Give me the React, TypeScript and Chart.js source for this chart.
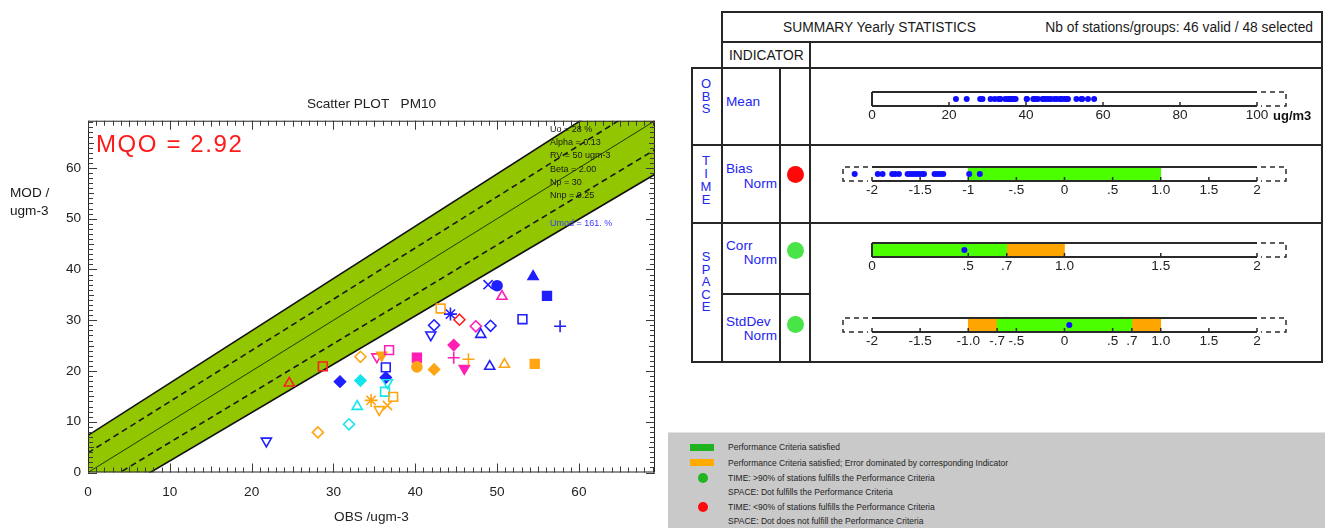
import React, { useEffect, useRef } from "react";
import { Chart, registerables } from "chart.js";
Chart.register(...registerables);

const F = '"Liberation Sans", Arial, Helvetica, sans-serif';

// ---------------- Scatter plot data ----------------
const obsValues = [21.8, 24.6, 28.1, 28.7, 30.8, 31.9, 32.9, 33.3, 33.3, 34.6, 35.3, 35.6, 35.9, 36.3, 36.4, 36.4, 36.6, 36.6, 36.8, 37.3, 40.2, 40.2, 41.9, 42.3, 42.3, 43.1, 44.3, 44.7, 44.7, 45.4, 46.0, 46.5, 47.4, 48.0, 48.9, 49.1, 49.2, 50.0, 50.6, 50.9, 53.1, 54.4, 54.6, 56.1, 57.7];
const modValues = [6.2, 17.6, 7.9, 20.9, 17.9, 9.5, 13.0, 18.1, 22.8, 14.2, 22.8, 12.4, 23.1, 15.9, 18.7, 20.7, 17.7, 13.2, 24.1, 14.9, 22.6, 20.8, 27.1, 29.0, 20.3, 32.3, 31.2, 25.1, 22.6, 30.1, 20.5, 22.3, 28.8, 27.2, 37.0, 20.9, 28.9, 36.8, 34.7, 21.3, 30.2, 38.6, 21.4, 34.8, 28.8];
const markerColors = ["blue", "red", "orange", "red", "blue", "cyan", "cyan", "cyan", "orange", "orange", "magenta", "orange", "orange", "cyan", "blue", "blue", "cyan", "orange", "magenta", "orange", "magenta", "orange", "blue", "blue", "orange", "orange", "blue", "magenta", "magenta", "red", "magenta", "orange", "magenta", "blue", "blue", "blue", "blue", "blue", "magenta", "orange", "blue", "blue", "orange", "blue", "blue"];
const markerShapes = ["triDown", "tri", "diamond", "square", "diamond", "diamond", "tri", "diamond", "diamond", "star", "triDown", "triDown", "triDown", "square", "diamond", "square", "triDown", "x", "square", "square", "square", "circle", "triDown", "diamond", "diamond", "square", "star", "diamond", "plus", "diamond", "triDown", "plus", "diamond", "tri", "x", "tri", "diamond", "circle", "tri", "tri", "square", "tri", "square", "square", "plus"];
const markerFilled = [false, false, false, false, true, false, false, true, false, false, false, false, true, false, true, false, false, false, false, false, true, true, false, false, true, false, false, true, false, false, true, false, false, false, false, false, false, true, false, false, false, true, true, true, false];

const axisTickValues = [0, 10, 20, 30, 40, 50, 60];
const axisMax = 69.3;

const bandUpper = [{ x: 0, y: 7.3 }, { x: 69.3, y: 78.7 }];
const bandLower = [{ x: 0, y: -7.24 }, { x: 69.3, y: 58.75 }];
const dashUpper = [{ x: 0, y: 3.87 }, { x: 69.3, y: 73.8 }];
const dashLower = [{ x: 0, y: -3.8 }, { x: 69.3, y: 63.6 }];
const oneToOne = [{ x: 0, y: 0 }, { x: 69.3, y: 69.3 }];

const paramLines = ["Uo = 28 %", "Alpha = 0.13", "RV = 50 ugm-3", "Beta = 2.00", "Np = 30", "Nnp = 0.25"];
const umodText = "Umod = 161. %";
const mqoText = "MQO = 2.92";

// ---------------- Summary data ----------------
const meanTicks = [0, 20, 40, 60, 80, 100];
const meanTickLabels = ["0", "20", "40", "60", "80", "100"];
const biasValues = [-2.18, -1.94, -1.89, -1.79, -1.76, -1.72, -1.63, -1.6, -1.57, -1.54, -1.51, -1.48, -1.46, -1.35, -1.32, -1.29, -1.26, -0.99, -0.88];
const biasTicks = [-2, -1.5, -1, -0.5, 0, 0.5, 1, 1.5, 2];
const biasTickLabels = ["-2", "-1.5", "-1", "-.5", "0", ".5", "1.0", "1.5", "2"];
const biasGreen = [[-1, 1]];
const corrValues = [0.48];
const corrTicks = [0, 0.5, 0.7, 1, 1.5, 2];
const corrTickLabels = ["0", ".5", ".7", "1.0", "1.5", "2"];
const corrGreen = [[0, 0.7]];
const corrOrange = [[0.7, 1.0]];
const stdValues = [0.05];
const stdTicks = [-2, -1.5, -1, -0.7, -0.5, 0, 0.5, 0.7, 1, 1.5, 2];
const stdTickLabels = ["-2", "-1.5", "-1.0", "-.7", "-.5", "0", ".5", ".7", "1.0", "1.5", "2"];
const stdGreen = [[-0.7, 0.7]];
const stdOrange = [[-1.0, -0.7], [0.7, 1.0]];
const statusColors = ["red", "green", "green"];

const legendLines = [
  "Performance Criteria satisfied",
  "Performance Criteria satisfied; Error dominated by corresponding Indicator",
  "TIME: >90% of stations fulfills the Performance Criteria",
  "SPACE: Dot fulfills the Performance Criteria",
  "TIME: <90% of stations fulfills the Performance Criteria",
  "SPACE: Dot does not fulfill the Performance Criteria",
];

// ---------------- styles ----------------
const COLORS: Record<string, string> = {
  blue: "#1f1fff",
  red: "#ff1f1f",
  orange: "#ffa514",
  cyan: "#14e4ee",
  magenta: "#ff1fb4",
};
const SHAPES: Record<string, { style: string; rot: number; r: number }> = {
  tri: { style: "triangle", rot: 0, r: 5.8 },
  triDown: { style: "triangle", rot: 180, r: 5.8 },
  diamond: { style: "rectRot", rot: 0, r: 5.5 },
  square: { style: "rect", rot: 0, r: 6.2 },
  circle: { style: "circle", rot: 0, r: 5 },
  plus: { style: "cross", rot: 0, r: 6 },
  x: { style: "crossRot", rot: 0, r: 6.5 },
  star: { style: "star", rot: 0, r: 6.5 },
};
const BAND = "#92c600";
const BAR_GREEN = "#4cff00";
const BAR_ORANGE = "#ffa500";
const STATUS: Record<string, string> = { red: "#ff0808", green: "#48e448" };

const frameTicksPlugin = {
  id: "frameTicks",
  afterDatasetsDraw(chart: any) {
    const { ctx, chartArea: a, scales } = chart;
    const x = scales.x;
    const y = scales.y;
    ctx.save();
    ctx.strokeStyle = "#222";
    ctx.lineWidth = 1;
    ctx.strokeRect(a.left + 0.5, a.top + 0.5, a.right - a.left - 1, a.bottom - a.top - 1);
    ctx.strokeStyle = "#3a3a3a";
    ctx.beginPath();
    for (let v = Math.ceil(x.min); v <= x.max; v++) {
      const len = v % 10 === 0 ? 9 : v % 5 === 0 ? 6 : 5;
      const px = Math.round(x.getPixelForValue(v)) + 0.5;
      ctx.moveTo(px, a.bottom);
      ctx.lineTo(px, a.bottom - len);
      ctx.moveTo(px, a.top);
      ctx.lineTo(px, a.top + len);
    }
    for (let v = Math.ceil(y.min); v <= y.max; v++) {
      const len = v % 10 === 0 ? 9 : v % 5 === 0 ? 6 : 5;
      const py = Math.round(y.getPixelForValue(v)) + 0.5;
      ctx.moveTo(a.left, py);
      ctx.lineTo(a.left + len, py);
      ctx.moveTo(a.right, py);
      ctx.lineTo(a.right - len, py);
    }
    ctx.stroke();
    ctx.restore();
  },
};

function ScatterChart() {
  const ref = useRef<HTMLCanvasElement>(null);
  useEffect(() => {
    const points = obsValues.map((x, i) => ({ x, y: modValues[i] }));
    const lineBase = { type: "line", showLine: true, pointRadius: 0, clip: 0, tension: 0 };
    const chart = new Chart(ref.current as HTMLCanvasElement, {
      type: "scatter",
      data: {
        datasets: [
          {
            type: "scatter",
            data: points,
            order: 0,
            pointStyle: markerShapes.map((s) => SHAPES[s].style),
            rotation: markerShapes.map((s) => SHAPES[s].rot),
            pointRadius: markerShapes.map((s) => SHAPES[s].r),
            pointBorderColor: markerColors.map((c) => COLORS[c]),
            pointBackgroundColor: markerColors.map((c, i) => (markerFilled[i] ? COLORS[c] : "rgba(0,0,0,0)")),
            pointBorderWidth: 1.6,
          } as any,
          { ...lineBase, data: oneToOne, order: 1, borderColor: "#243800", borderWidth: 1, fill: false } as any,
          { ...lineBase, data: dashUpper, order: 1, borderColor: "#1a1a1a", borderWidth: 1.6, borderDash: [6, 4], fill: false } as any,
          { ...lineBase, data: dashLower, order: 1, borderColor: "#1a1a1a", borderWidth: 1.6, borderDash: [6, 4], fill: false } as any,
          { ...lineBase, data: bandUpper, order: 2, borderColor: "#111", borderWidth: 1.6, fill: "+1", backgroundColor: BAND } as any,
          { ...lineBase, data: bandLower, order: 2, borderColor: "#111", borderWidth: 1.6, fill: false } as any,
        ],
      },
      options: {
        animation: false,
        responsive: false,
        maintainAspectRatio: false,
        layout: { padding: { left: 0, right: 15, top: 0, bottom: 0 } },
        plugins: {
          legend: { display: false },
          tooltip: { enabled: false },
          filler: { drawTime: "beforeDatasetsDraw" },
          title: {
            display: true,
            text: "Scatter PLOT   PM10",
            fullSize: false,
            color: "#222",
            font: { family: F, size: 13.6, weight: "normal" },
            padding: { top: 96.2, bottom: 8.2 },
          },
        } as any,
        scales: {
          x: {
            type: "linear",
            min: 0,
            max: axisMax,
            grid: { display: false, drawTicks: false },
            border: { display: false },
            afterBuildTicks: (s: any) => {
              s.ticks = axisTickValues.map((v) => ({ value: v }));
            },
            afterFit: (s: any) => {
              s.height = 55.5;
            },
            ticks: { color: "#222", font: { family: F, size: 13.6 }, padding: 12, maxRotation: 0, autoSkip: false },
            title: { display: true, text: "OBS /ugm-3", color: "#222", font: { family: F, size: 13.6 }, padding: { top: 0, bottom: 3 } },
          },
          y: {
            type: "linear",
            min: 0,
            max: axisMax,
            grid: { display: false, drawTicks: false },
            border: { display: false },
            afterBuildTicks: (s: any) => {
              s.ticks = axisTickValues.map((v) => ({ value: v }));
            },
            afterFit: (s: any) => {
              s.width = 88;
            },
            ticks: { color: "#222", font: { family: F, size: 13.6 }, padding: 7, autoSkip: false },
          },
        },
      } as any,
      plugins: [frameTicksPlugin],
    } as any);
    return () => chart.destroy();
  }, []);
  return <canvas ref={ref} width={670} height={528} style={{ position: "absolute", left: 0, top: 0 }} />;
}

type RowCfg = {
  top: number;
  range: number[];
  ticks: number[];
  labels: string[];
  green: number[][];
  orange: number[][];
  dots: number[];
  leftDashed: boolean;
  startLine: boolean;
};

function RowChart({ cfg }: { cfg: RowCfg }) {
  const ref = useRef<HTMLCanvasElement>(null);
  useEffect(() => {
    const [a, b] = cfg.range;
    const e = ((b - a) * 30) / 385;
    const framePlugin = {
      id: "rowFrame",
      afterDatasetsDraw(chart: any) {
        const { ctx, chartArea: ca, scales } = chart;
        const x = scales.x;
        const pa = x.getPixelForValue(a);
        const pb = x.getPixelForValue(b);
        const pmin = x.getPixelForValue(x.min);
        const pmax = x.getPixelForValue(x.max);
        const t = ca.top;
        const bt = ca.bottom;
        ctx.save();
        ctx.strokeStyle = "#2a2a2a";
        ctx.lineWidth = 2;
        ctx.beginPath();
        ctx.moveTo(pa, t);
        ctx.lineTo(pb, t);
        ctx.moveTo(pa, bt);
        ctx.lineTo(pb, bt);
        if (cfg.startLine) {
          ctx.moveTo(pa, t);
          ctx.lineTo(pa, bt);
        }
        ctx.stroke();
        ctx.lineWidth = 1.5;
        ctx.beginPath();
        cfg.ticks.forEach((v) => {
          const p = x.getPixelForValue(v);
          ctx.moveTo(p, bt);
          ctx.lineTo(p, bt - 4);
        });
        ctx.stroke();
        ctx.setLineDash([5, 4]);
        ctx.lineWidth = 1.5;
        ctx.beginPath();
        ctx.moveTo(pb + 4, t);
        ctx.lineTo(pmax - 1, t);
        ctx.lineTo(pmax - 1, bt);
        ctx.lineTo(pb + 4, bt);
        if (cfg.leftDashed) {
          ctx.moveTo(pa - 4, t);
          ctx.lineTo(pmin + 1, t);
          ctx.lineTo(pmin + 1, bt);
          ctx.lineTo(pa - 4, bt);
        }
        ctx.stroke();
        ctx.restore();
      },
    };
    const barBase = { type: "bar", barThickness: 14, borderWidth: 0, grouped: false, order: 2 };
    const datasets: any[] = [];
    if (cfg.green.length) datasets.push({ ...barBase, data: cfg.green.map((g) => ({ x: g, y: 0.5 })), backgroundColor: BAR_GREEN });
    if (cfg.orange.length) datasets.push({ ...barBase, data: cfg.orange.map((g) => ({ x: g, y: 0.5 })), backgroundColor: BAR_ORANGE });
    datasets.push({
      type: "scatter",
      order: 0,
      data: cfg.dots.map((v) => ({ x: v, y: 0.5 })),
      pointRadius: 3,
      pointBackgroundColor: "#1010ff",
      pointBorderWidth: 0,
      clip: false,
    });
    const chart = new Chart(ref.current as HTMLCanvasElement, {
      type: "bar",
      data: { datasets },
      options: {
        animation: false,
        responsive: false,
        maintainAspectRatio: false,
        indexAxis: "y",
        layout: { padding: { left: 12, right: 13, top: 4, bottom: 0 } },
        plugins: { legend: { display: false }, tooltip: { enabled: false } },
        scales: {
          x: {
            type: "linear",
            min: a - e,
            max: b + e,
            grid: { display: false, drawTicks: false },
            border: { display: false },
            afterBuildTicks: (s: any) => {
              s.ticks = cfg.ticks.map((v) => ({ value: v }));
            },
            afterFit: (s: any) => {
              s.height = 22;
            },
            ticks: {
              color: "#222",
              font: { family: F, size: 13.6 },
              padding: 1,
              maxRotation: 0,
              autoSkip: false,
              callback: (_v: any, i: number) => cfg.labels[i],
            },
          },
          y: { type: "linear", min: 0, max: 1, display: false },
        },
      } as any,
      plugins: [framePlugin],
    } as any);
    return () => chart.destroy();
  }, []);
  return <canvas ref={ref} width={470} height={40} style={{ position: "absolute", left: 830, top: cfg.top - 4 }} />;
}

const rows: RowCfg[] = [
  { top: 92, range: [0, 100], ticks: meanTicks, labels: meanTickLabels, green: [], orange: [], dots: obsValues, leftDashed: false, startLine: true },
  { top: 167, range: [-2, 2], ticks: biasTicks, labels: biasTickLabels, green: biasGreen, orange: [], dots: biasValues, leftDashed: true, startLine: false },
  { top: 243, range: [0, 2], ticks: corrTicks, labels: corrTickLabels, green: corrGreen, orange: corrOrange, dots: corrValues, leftDashed: false, startLine: true },
  { top: 318, range: [-2, 2], ticks: stdTicks, labels: stdTickLabels, green: stdGreen, orange: stdOrange, dots: stdValues, leftDashed: true, startLine: false },
];

function Txt(props: { x: number; cy: number; size: number; color?: string; children: any; right?: boolean; weight?: any; ls?: number }) {
  const { x, cy, size, color = "#1a1a1a", children, right, weight = "normal", ls = 0 } = props;
  const lh = Math.round(size * 1.2);
  const st: any = {
    position: "absolute",
    top: cy - lh / 2,
    fontSize: size,
    lineHeight: `${lh}px`,
    color,
    fontWeight: weight,
    letterSpacing: ls,
    whiteSpace: "pre",
    fontFamily: F,
  };
  if (right) st.right = 1325 - x;
  else st.left = x;
  return <div style={st}>{children}</div>;
}

const LINE = "#262626";
function HL({ x1, x2, y }: { x1: number; x2: number; y: number }) {
  return <div style={{ position: "absolute", left: x1 - 1, top: y - 1, width: x2 - x1 + 2, height: 2, background: LINE }} />;
}
function VL({ x, y1, y2 }: { x: number; y1: number; y2: number }) {
  return <div style={{ position: "absolute", left: x - 1, top: y1 - 1, width: 2, height: y2 - y1 + 2, background: LINE }} />;
}
function Dot({ cx, cy, r, color }: { cx: number; cy: number; r: number; color: string }) {
  return <div style={{ position: "absolute", left: cx - r, top: cy - r, width: 2 * r, height: 2 * r, borderRadius: "50%", background: color }} />;
}

function Vertical({ text, cy0, step }: { text: string; cy0: number; step: number }) {
  return (
    <>
      {text.split("").map((ch, i) => (
        <div key={i} style={{ position: "absolute", left: 696, width: 20, textAlign: "center", top: cy0 + i * step - 8, lineHeight: "16px", fontSize: 13, color: "#2525ee", fontFamily: F }}>
          {ch}
        </div>
      ))}
    </>
  );
}

function Summary() {
  const blue = "#2424ee";
  return (
    <>
      <HL x1={722} x2={1322} y={12} />
      <HL x1={722} x2={1322} y={42} />
      <VL x={722} y1={12} y2={362} />
      <VL x={1322} y1={12} y2={362} />
      <VL x={810} y1={42} y2={362} />
      <HL x1={692} x2={1322} y={68} />
      <VL x={692} y1={68} y2={362} />
      <VL x={780} y1={68} y2={362} />
      <HL x1={692} x2={1322} y={145} />
      <HL x1={692} x2={1322} y={223} />
      <HL x1={722} x2={810} y={294} />
      <HL x1={692} x2={1322} y={362} />
      <Txt x={783} cy={27} size={13.8}>SUMMARY Yearly STATISTICS</Txt>
      <Txt x={1313} cy={27} size={13.8} right>Nb of stations/groups: 46 valid / 48 selected</Txt>
      <Txt x={729} cy={55} size={13.8}>INDICATOR</Txt>
      <Vertical text="OBS" cy0={84} step={12.6} />
      <Vertical text="TIME" cy0={161} step={13} />
      <Vertical text="SPACE" cy0={257} step={12.6} />
      <Txt x={726} cy={102} size={13.6} color={blue}>Mean</Txt>
      <Txt x={726} cy={169} size={13.6} color={blue}>Bias</Txt>
      <Txt x={777} cy={184} size={13.6} color={blue} right>Norm</Txt>
      <Txt x={726} cy={245.5} size={13.6} color={blue}>Corr</Txt>
      <Txt x={777} cy={260} size={13.6} color={blue} right>Norm</Txt>
      <Txt x={726} cy={321.5} size={13.6} color={blue}>StdDev</Txt>
      <Txt x={777} cy={336} size={13.6} color={blue} right>Norm</Txt>
      <Dot cx={795} cy={174} r={8.5} color={STATUS[statusColors[0]]} />
      <Dot cx={795} cy={250} r={8.5} color={STATUS[statusColors[1]]} />
      <Dot cx={795} cy={324.5} r={8.5} color={STATUS[statusColors[2]]} />
      {rows.map((r, i) => (
        <RowChart key={i} cfg={r} />
      ))}
      <Txt x={1273} cy={116} size={13} weight="bold" color="#111">ug/m3</Txt>
    </>
  );
}

function Legend() {
  const ys = [447.3, 462.7, 477.7, 491.7, 506.7, 520.7];
  return (
    <>
      <div style={{ position: "absolute", left: 668, top: 432, width: 657, height: 96, background: "#c9c9c9", borderTop: "1px solid #e4e4e4" }} />
      <div style={{ position: "absolute", left: 690, top: 444, width: 24, height: 6.5, background: "#1fb41f" }} />
      <div style={{ position: "absolute", left: 690, top: 459, width: 24, height: 6.5, background: "#ffab00" }} />
      <Dot cx={703} cy={477.7} r={5} color="#22b522" />
      <Dot cx={703} cy={506.7} r={5} color="#ff0a0a" />
      {legendLines.map((t, i) => (
        <Txt key={i} x={728} cy={ys[i]} size={8.5} color="#1e1e1e">{t}</Txt>
      ))}
    </>
  );
}

export default function App() {
  return (
    <div style={{ position: "absolute", left: 0, top: 0, width: 1325, height: 528, background: "#fff", overflow: "hidden", fontFamily: F }}>
      <ScatterChart />
      <Txt x={10} cy={193} size={13.6}>MOD /</Txt>
      <Txt x={10} cy={211} size={13.6}>ugm-3</Txt>
      <Txt x={96} cy={143} size={24} color="#ff1a1a" ls={1.6}>{mqoText}</Txt>
      {paramLines.map((t, i) => (
        <Txt key={i} x={550} cy={129 + i * 13.35} size={9} color="#1a1a1a">{t}</Txt>
      ))}
      <Txt x={550} cy={223.3} size={9} color="#3a3aff">{umodText}</Txt>
      <Summary />
      <Legend />
    </div>
  );
}
